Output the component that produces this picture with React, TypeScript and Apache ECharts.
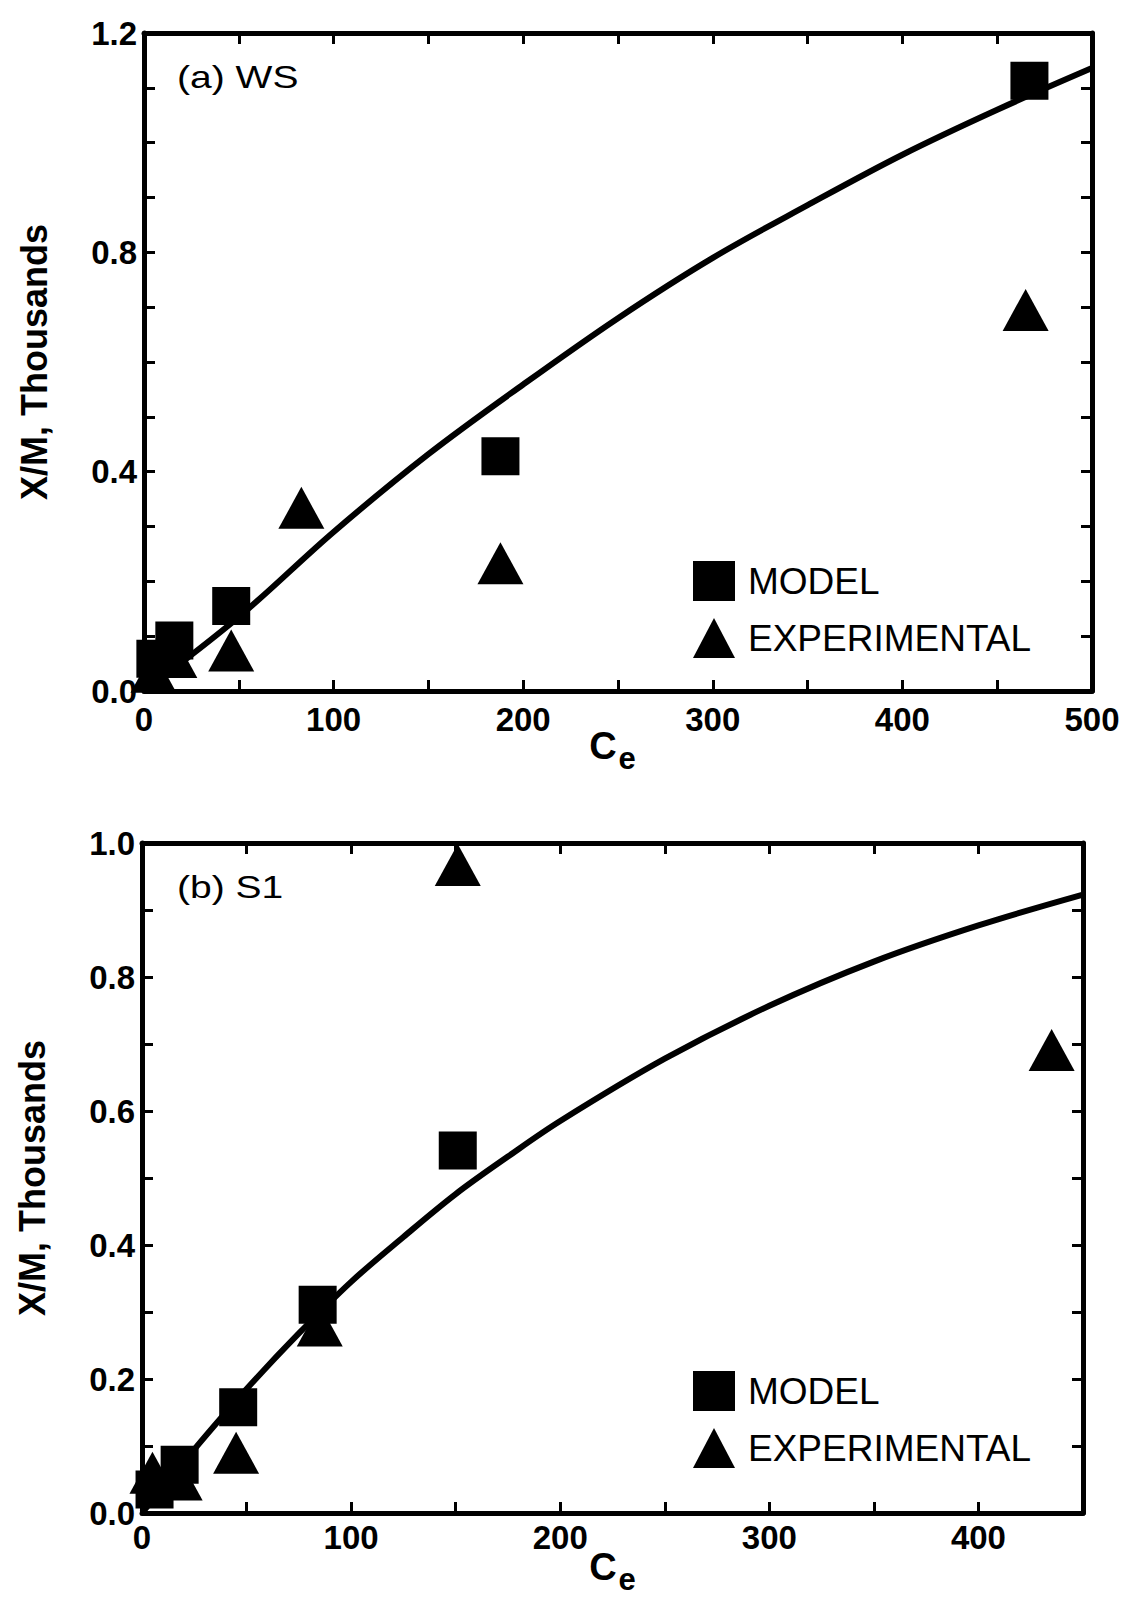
import React, { useEffect, useRef } from "react";
import * as echarts from "echarts";

// ---- text ----
const panelLabels = ["(a) WS", "(b) S1"];
const legendNames = ["MODEL", "EXPERIMENTAL"];
const yAxisTitle = "X/M, Thousands";
const xAxisMain = "C";
const xAxisSub = "e";

// ---- tick labels ----
const xTicksA = [0, 100, 200, 300, 400, 500];
const yTicksA = [0.0, 0.4, 0.8, 1.2];
const xTicksB = [0, 100, 200, 300, 400];
const yTicksB = [0.0, 0.2, 0.4, 0.6, 0.8, 1.0];

// ---- panel (a) WS ----
const modelA: number[][] = [
  [6, 0.059],
  [16, 0.092],
  [46, 0.155],
  [188, 0.428],
  [467, 1.113],
];
const expA: number[][] = [
  [5, 0.035],
  [16, 0.062],
  [46, 0.074],
  [83, 0.334],
  [188, 0.233],
  [465, 0.695],
];
const fitA: number[][] = [
  [0, 0],
  [50, 0.135],
  [100, 0.29],
  [150, 0.432],
  [200, 0.559],
  [250, 0.68],
  [300, 0.79],
  [350, 0.886],
  [400, 0.978],
  [450, 1.06],
  [500, 1.136],
];

// ---- panel (b) S1 ----
const modelB: number[][] = [
  [6, 0.035],
  [18, 0.072],
  [46, 0.158],
  [84, 0.311],
  [151, 0.541],
];
const expB: number[][] = [
  [5, 0.06],
  [18, 0.05],
  [45, 0.09],
  [85, 0.28],
  [151, 0.967],
  [435, 0.691],
];
const fitB: number[][] = [
  [0, 0],
  [25, 0.095],
  [50, 0.185],
  [75, 0.268],
  [100, 0.345],
  [125, 0.412],
  [150, 0.476],
  [175, 0.532],
  [200, 0.585],
  [250, 0.678],
  [300, 0.757],
  [350, 0.823],
  [400, 0.877],
  [450, 0.923],
];

const FONT = "Liberation Sans, Arial, Helvetica, sans-serif";
const BLACK = "#000";

function inTicks(list: number[], v: number) {
  return list.some((t) => Math.abs(t - v) < 1e-6);
}

function makeX(grid: number, ticks: number[], max: number, margin: number, main: boolean) {
  return {
    type: "value",
    gridIndex: grid,
    min: 0,
    max,
    interval: 50,
    position: main ? "bottom" : "top",
    splitLine: { show: false },
    axisLine: { show: true, onZero: false, lineStyle: { color: BLACK, width: 5 } },
    axisTick: { show: true, inside: true, length: 11, lineStyle: { color: BLACK, width: 3 } },
    axisLabel: {
      show: main,
      margin,
      color: BLACK,
      fontFamily: FONT,
      fontWeight: "bold",
      fontSize: 33,
      formatter: (v: number) => (inTicks(ticks, v) ? String(Math.round(v)) : ""),
    },
  };
}

function makeY(grid: number, ticks: number[], max: number, main: boolean) {
  return {
    type: "value",
    gridIndex: grid,
    min: 0,
    max,
    interval: 0.1,
    position: main ? "left" : "right",
    name: main ? yAxisTitle : "",
    nameLocation: "middle",
    nameRotate: 90,
    nameGap: 92,
    nameTextStyle: { color: BLACK, fontFamily: FONT, fontWeight: "bold", fontSize: 36 },
    splitLine: { show: false },
    axisLine: { show: true, onZero: false, lineStyle: { color: BLACK, width: 5 } },
    axisTick: { show: true, inside: true, length: 11, lineStyle: { color: BLACK, width: 3 } },
    axisLabel: {
      show: main,
      margin: 7,
      color: BLACK,
      fontFamily: FONT,
      fontWeight: "bold",
      fontSize: 33,
      formatter: (v: number) => (inTicks(ticks, v) ? v.toFixed(1) : ""),
    },
  };
}

function scatter(name: string, data: number[][], xi: number, yi: number, tri: boolean) {
  return {
    name,
    type: "scatter",
    xAxisIndex: xi,
    yAxisIndex: yi,
    data,
    symbol: tri ? "triangle" : "rect",
    symbolSize: tri ? [46, 42] : 38,
    itemStyle: { color: BLACK, opacity: 1 },
    emphasis: { disabled: true },
    z: 3,
  };
}

function fit(data: number[][], xi: number, yi: number) {
  return {
    name: "fit",
    type: "line",
    xAxisIndex: xi,
    yAxisIndex: yi,
    data,
    smooth: 0.35,
    showSymbol: false,
    symbol: "none",
    lineStyle: { color: BLACK, width: 6, opacity: 1 },
    z: 2,
  };
}

function legend(top: number) {
  return {
    data: legendNames,
    orient: "vertical",
    left: 688,
    top,
    itemWidth: 42,
    itemHeight: 40,
    itemGap: 17,
    selectedMode: false,
    itemStyle: { opacity: 1 },
    textStyle: { color: BLACK, fontFamily: FONT, fontSize: 37, padding: [0, 0, 0, 8] },
  };
}

function label(text: string, x: number, y: number) {
  return {
    type: "text",
    x,
    y,
    scaleX: 1.22,
    style: { text, fill: BLACK, fontFamily: FONT, fontSize: 32, align: "left", verticalAlign: "middle" },
  };
}

function ce(x: number, y: number) {
  return [
    {
      type: "text",
      x,
      y,
      style: { text: xAxisMain, fill: BLACK, fontFamily: FONT, fontWeight: "bold", fontSize: 38, align: "center", verticalAlign: "middle" },
    },
    {
      type: "text",
      x: x + 24,
      y: y + 12,
      style: { text: xAxisSub, fill: BLACK, fontFamily: FONT, fontWeight: "bold", fontSize: 31, align: "center", verticalAlign: "middle" },
    },
  ];
}

export default function App() {
  const ref = useRef<HTMLDivElement>(null);
  useEffect(() => {
    if (!ref.current) return;
    const chart = echarts.init(ref.current, undefined, { renderer: "svg" });
    chart.setOption({
      animation: false,
      backgroundColor: "#fff",
      grid: [
        { left: 144, top: 33, width: 948, height: 658 },
        { left: 142, top: 843, width: 941, height: 670 },
      ],
      xAxis: [
        makeX(0, xTicksA, 500, 12, true),
        makeX(0, xTicksA, 500, 12, false),
        makeX(1, xTicksB, 450, 8, true),
        makeX(1, xTicksB, 450, 8, false),
      ],
      yAxis: [
        makeY(0, yTicksA, 1.2, true),
        makeY(0, yTicksA, 1.2, false),
        makeY(1, yTicksB, 1.0, true),
        makeY(1, yTicksB, 1.0, false),
      ],
      legend: [legend(556), legend(1366)],
      series: [
        fit(fitA, 0, 0),
        scatter(legendNames[0], modelA, 0, 0, false),
        scatter(legendNames[1], expA, 0, 0, true),
        fit(fitB, 2, 2),
        scatter(legendNames[0], modelB, 2, 2, false),
        scatter(legendNames[1], expB, 2, 2, true),
      ],
      graphic: [
        label(panelLabels[0], 177, 77),
        label(panelLabels[1], 177, 887),
        ...ce(603, 746),
        ...ce(603, 1567),
      ],
    });
    return () => chart.dispose();
  }, []);
  return (
    <div
      ref={ref}
      style={{ position: "absolute", left: 0, top: 0, width: 1123, height: 1602, background: "#fff" }}
    />
  );
}
